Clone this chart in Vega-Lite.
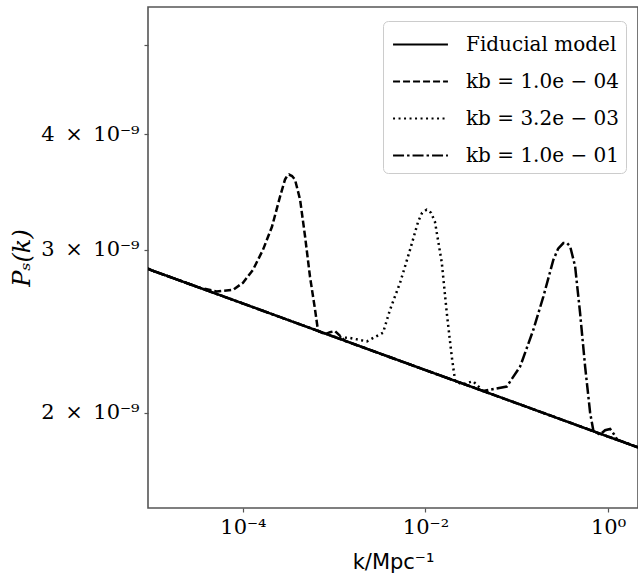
{
  "$schema": "https://vega.github.io/schema/vega-lite/v6.json",
  "width": 490,
  "height": 501,
  "autosize": {"type": "none"},
  "padding": {"left": 148, "top": 7, "right": 0, "bottom": 65},
  "background": "white",
  "config": {
    "view": {"stroke": "#555555", "strokeWidth": 1.6},
    "axis": {"grid": false, "domain": false, "tickColor": "#555555", "tickSize": 4, "tickWidth": 1.2, "labelColor": "black", "titleColor": "black", "titleFontWeight": "normal"}
  },
  "data": {
    "values": [
      {"model": "Fiducial model", "k": 9.12e-6, "P": 2.862e-9},
      {"model": "Fiducial model", "k": 1e-5, "P": 2.851e-9},
      {"model": "Fiducial model", "k": 1e-4, "P": 2.625e-9},
      {"model": "Fiducial model", "k": 1e-3, "P": 2.416e-9},
      {"model": "Fiducial model", "k": 1e-2, "P": 2.224e-9},
      {"model": "Fiducial model", "k": 1e-1, "P": 2.048e-9},
      {"model": "Fiducial model", "k": 1, "P": 1.885e-9},
      {"model": "Fiducial model", "k": 2.13, "P": 1.835e-9},

      {"model": "kb = 1.0e − 04", "k": 9.12e-6, "P": 2.862e-9},
      {"model": "kb = 1.0e − 04", "k": 1e-5, "P": 2.851e-9},
      {"model": "kb = 1.0e − 04", "k": 2e-5, "P": 2.781e-9},
      {"model": "kb = 1.0e − 04", "k": 3.39e-5, "P": 2.729e-9},
      {"model": "kb = 1.0e − 04", "k": 5.16e-5, "P": 2.705e-9},
      {"model": "kb = 1.0e − 04", "k": 7.80e-5, "P": 2.716e-9},
      {"model": "kb = 1.0e − 04", "k": 1.002e-4, "P": 2.764e-9},
      {"model": "kb = 1.0e − 04", "k": 1.29e-4, "P": 2.855e-9},
      {"model": "kb = 1.0e − 04", "k": 1.66e-4, "P": 3.001e-9},
      {"model": "kb = 1.0e − 04", "k": 2.08e-4, "P": 3.177e-9},
      {"model": "kb = 1.0e − 04", "k": 2.55e-4, "P": 3.425e-9},
      {"model": "kb = 1.0e − 04", "k": 2.89e-4, "P": 3.573e-9},
      {"model": "kb = 1.0e − 04", "k": 3.04e-4, "P": 3.605e-9},
      {"model": "kb = 1.0e − 04", "k": 3.20e-4, "P": 3.618e-9},
      {"model": "kb = 1.0e − 04", "k": 3.45e-4, "P": 3.605e-9},
      {"model": "kb = 1.0e − 04", "k": 3.72e-4, "P": 3.573e-9},
      {"model": "kb = 1.0e − 04", "k": 4.23e-4, "P": 3.399e-9},
      {"model": "kb = 1.0e − 04", "k": 4.80e-4, "P": 3.099e-9},
      {"model": "kb = 1.0e − 04", "k": 5.43e-4, "P": 2.806e-9},
      {"model": "kb = 1.0e − 04", "k": 6.17e-4, "P": 2.585e-9},
      {"model": "kb = 1.0e − 04", "k": 6.65e-4, "P": 2.452e-9},
      {"model": "kb = 1.0e − 04", "k": 7.94e-4, "P": 2.431e-9},
      {"model": "kb = 1.0e − 04", "k": 9.0e-4, "P": 2.444e-9},
      {"model": "kb = 1.0e − 04", "k": 1.02e-3, "P": 2.451e-9},
      {"model": "kb = 1.0e − 04", "k": 1.16e-3, "P": 2.422e-9},
      {"model": "kb = 1.0e − 04", "k": 1.31e-3, "P": 2.392e-9},
      {"model": "kb = 1.0e − 04", "k": 1e-2, "P": 2.224e-9},
      {"model": "kb = 1.0e − 04", "k": 1e-1, "P": 2.048e-9},
      {"model": "kb = 1.0e − 04", "k": 1, "P": 1.885e-9},
      {"model": "kb = 1.0e − 04", "k": 2.13, "P": 1.835e-9},

      {"model": "kb = 3.2e − 03", "k": 9.12e-6, "P": 2.862e-9},
      {"model": "kb = 3.2e − 03", "k": 1e-5, "P": 2.851e-9},
      {"model": "kb = 3.2e − 03", "k": 1e-4, "P": 2.625e-9},
      {"model": "kb = 3.2e − 03", "k": 1e-3, "P": 2.416e-9},
      {"model": "kb = 3.2e − 03", "k": 1.49e-3, "P": 2.409e-9},
      {"model": "kb = 3.2e − 03", "k": 2.28e-3, "P": 2.389e-9},
      {"model": "kb = 3.2e − 03", "k": 3.43e-3, "P": 2.441e-9},
      {"model": "kb = 3.2e − 03", "k": 4.09e-3, "P": 2.585e-9},
      {"model": "kb = 3.2e − 03", "k": 5.27e-3, "P": 2.764e-9},
      {"model": "kb = 3.2e − 03", "k": 6.78e-3, "P": 3.001e-9},
      {"model": "kb = 3.2e − 03", "k": 8.30e-3, "P": 3.217e-9},
      {"model": "kb = 3.2e − 03", "k": 9.18e-3, "P": 3.290e-9},
      {"model": "kb = 3.2e − 03", "k": 1.03e-2, "P": 3.315e-9},
      {"model": "kb = 3.2e − 03", "k": 1.15e-2, "P": 3.290e-9},
      {"model": "kb = 3.2e − 03", "k": 1.27e-2, "P": 3.217e-9},
      {"model": "kb = 3.2e − 03", "k": 1.51e-2, "P": 2.905e-9},
      {"model": "kb = 3.2e − 03", "k": 1.71e-2, "P": 2.566e-9},
      {"model": "kb = 3.2e − 03", "k": 1.94e-2, "P": 2.301e-9},
      {"model": "kb = 3.2e − 03", "k": 2.11e-2, "P": 2.166e-9},
      {"model": "kb = 3.2e − 03", "k": 2.52e-2, "P": 2.146e-9},
      {"model": "kb = 3.2e − 03", "k": 2.93e-2, "P": 2.156e-9},
      {"model": "kb = 3.2e − 03", "k": 3.33e-2, "P": 2.163e-9},
      {"model": "kb = 3.2e − 03", "k": 3.77e-2, "P": 2.137e-9},
      {"model": "kb = 3.2e − 03", "k": 4.28e-2, "P": 2.111e-9},
      {"model": "kb = 3.2e − 03", "k": 1e-1, "P": 2.048e-9},
      {"model": "kb = 3.2e − 03", "k": 1, "P": 1.885e-9},
      {"model": "kb = 3.2e − 03", "k": 2.13, "P": 1.835e-9},

      {"model": "kb = 1.0e − 01", "k": 9.12e-6, "P": 2.862e-9},
      {"model": "kb = 1.0e − 01", "k": 1e-5, "P": 2.851e-9},
      {"model": "kb = 1.0e − 01", "k": 1e-4, "P": 2.625e-9},
      {"model": "kb = 1.0e − 01", "k": 1e-3, "P": 2.416e-9},
      {"model": "kb = 1.0e − 01", "k": 1e-2, "P": 2.224e-9},
      {"model": "kb = 1.0e − 01", "k": 3.33e-2, "P": 2.131e-9},
      {"model": "kb = 1.0e − 01", "k": 4.28e-2, "P": 2.111e-9},
      {"model": "kb = 1.0e − 01", "k": 5.10e-2, "P": 2.118e-9},
      {"model": "kb = 1.0e − 01", "k": 7.78e-2, "P": 2.135e-9},
      {"model": "kb = 1.0e − 01", "k": 0.109, "P": 2.244e-9},
      {"model": "kb = 1.0e − 01", "k": 0.152, "P": 2.459e-9},
      {"model": "kb = 1.0e − 01", "k": 0.196, "P": 2.672e-9},
      {"model": "kb = 1.0e − 01", "k": 0.252, "P": 2.927e-9},
      {"model": "kb = 1.0e − 01", "k": 0.284, "P": 3.008e-9},
      {"model": "kb = 1.0e − 01", "k": 0.324, "P": 3.051e-9},
      {"model": "kb = 1.0e − 01", "k": 0.356, "P": 3.050e-9},
      {"model": "kb = 1.0e − 01", "k": 0.385, "P": 3.025e-9},
      {"model": "kb = 1.0e − 01", "k": 0.436, "P": 2.879e-9},
      {"model": "kb = 1.0e − 01", "k": 0.494, "P": 2.564e-9},
      {"model": "kb = 1.0e − 01", "k": 0.561, "P": 2.244e-9},
      {"model": "kb = 1.0e − 01", "k": 0.637, "P": 1.999e-9},
      {"model": "kb = 1.0e − 01", "k": 0.692, "P": 1.911e-9},
      {"model": "kb = 1.0e − 01", "k": 0.819, "P": 1.894e-9},
      {"model": "kb = 1.0e − 01", "k": 0.929, "P": 1.915e-9},
      {"model": "kb = 1.0e − 01", "k": 1.054, "P": 1.921e-9},
      {"model": "kb = 1.0e − 01", "k": 1.167, "P": 1.895e-9},
      {"model": "kb = 1.0e − 01", "k": 1.259, "P": 1.871e-9},
      {"model": "kb = 1.0e − 01", "k": 2.13, "P": 1.835e-9}
    ]
  },
  "mark": {"type": "line", "color": "black", "strokeWidth": 2.5, "clip": true},
  "encoding": {
    "x": {
      "field": "k",
      "type": "quantitative",
      "scale": {"type": "log", "domain": [9.12e-6, 2.13], "nice": false},
      "axis": {
        "values": [0.0001, 0.01, 1],
        "labelExpr": "datum.value < 0.001 ? '10⁻⁴' : datum.value < 0.1 ? '10⁻²' : '10⁰'",
        "labelFont": "DejaVu Serif",
        "labelFontSize": 21,
        "labelPadding": 4,
        "labelFlush": false,
        "title": "k/Mpc⁻¹",
        "titleFont": "DejaVu Sans",
        "titleFontSize": 21,
        "titlePadding": 14
      }
    },
    "y": {
      "field": "P",
      "type": "quantitative",
      "scale": {"type": "log", "domain": [1.578e-9, 5.49e-9], "nice": false, "zero": false},
      "axis": {
        "values": [2e-9, 3e-9, 4e-9, 5e-9],
        "labelExpr": "round(datum.value * 1e9) == 5 ? '' : round(datum.value * 1e9) + '\u2002×\u2002' + '10⁻⁹'",
        "labelFont": "DejaVu Serif",
        "labelFontSize": 21,
        "labelPadding": 5,
        "labelOverlap": false,
        "labelFlush": false,
        "title": "Pₛ(k)",
        "titleFont": "DejaVu Serif",
        "titleFontStyle": "italic",
        "titleFontSize": 24,
        "titlePadding": 6
      }
    },
    "strokeDash": {
      "field": "model",
      "type": "nominal",
      "scale": {
        "domain": ["Fiducial model", "kb = 1.0e − 04", "kb = 3.2e − 03", "kb = 1.0e − 01"],
        "range": [[1, 0], [7, 3], [2, 3.5], [11, 3, 2.5, 3]]
      },
      "legend": {
        "title": null,
        "orient": "none",
        "legendX": 235,
        "legendY": 14,
        "symbolType": "M-1.83,0H1.83",
        "symbolSize": 900,
        "symbolStrokeWidth": 2.2,
        "symbolStrokeColor": "black",
        "symbolFillColor": "transparent",
        "symbolOffset": 14,
        "labelOffset": 29,
        "labelFont": "DejaVu Serif",
        "labelFontSize": 20,
        "labelColor": "black",
        "padding": 7,
        "rowPadding": 10,
        "strokeColor": "#cccccc",
        "cornerRadius": 5,
        "fillColor": "white"
      }
    }
  }
}
